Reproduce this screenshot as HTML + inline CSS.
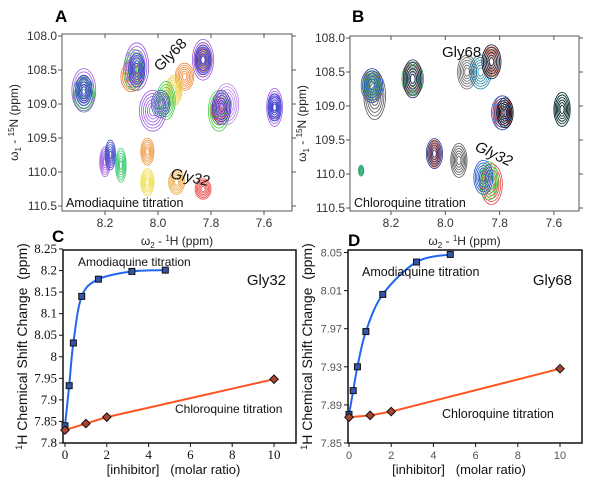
<!DOCTYPE html>
<html><head><meta charset="utf-8"><style>
html,body{margin:0;padding:0;background:#fff;}
svg{display:block;font-family:"Liberation Sans",sans-serif;}
</style></head><body>
<svg id="fig" width="600" height="484" viewBox="0 0 600 484" xmlns="http://www.w3.org/2000/svg">
  <text x="55" y="22" font-size="17" font-weight="bold">A</text>
  <text x="352" y="22" font-size="17" font-weight="bold">B</text>
  <text x="52" y="242" font-size="17" font-weight="bold">C</text>
  <text x="348" y="246" font-size="17" font-weight="bold">D</text>
  <g id="gA"></g>
  <g id="gB"></g>
  <g id="gC"></g>
  <g id="gD"></g>
</svg>
<script>
// ---- NMR spectra data: [H ppm, N ppm, color, rx ppm, ry ppm]
const peaksA = [
 [8.28,108.8,'#9b59e0',0.045,0.32],[8.28,108.85,'#33aa55',0.04,0.25],[8.28,108.8,'#3344cc',0.03,0.22],
 [8.1,108.6,'#ee7733',0.04,0.22],[8.09,108.5,'#44cc44',0.04,0.3],[8.08,108.45,'#9b59e0',0.045,0.35],[8.08,108.5,'#3344cc',0.03,0.25],
 [7.9,108.6,'#ee8833',0.035,0.2],[7.94,108.8,'#eecc33',0.03,0.22],[7.97,108.95,'#44cc44',0.035,0.28],[7.99,109.0,'#3366aa',0.035,0.2],[8.02,109.1,'#9b59e0',0.05,0.3],
 [7.83,108.35,'#ee8833',0.035,0.25],[7.83,108.35,'#9b59e0',0.04,0.3],[7.83,108.35,'#3344cc',0.03,0.22],
 [7.77,109.1,'#ee3333',0.03,0.2],[7.77,109.1,'#44cc44',0.04,0.3],[7.74,109.0,'#bb88ee',0.045,0.3],[7.76,109.05,'#5533cc',0.035,0.25],
 [7.56,109.05,'#9b59e0',0.03,0.28],[7.56,109.05,'#3344cc',0.025,0.2],
 [8.2,109.85,'#aa66dd',0.02,0.22],[8.18,109.75,'#4455cc',0.02,0.22],[8.14,109.9,'#44cc77',0.02,0.25],
 [8.04,109.7,'#ee9944',0.025,0.2],[8.04,110.15,'#eedd44',0.025,0.2],[7.93,110.15,'#eeaa44',0.03,0.18],[7.83,110.25,'#ee4444',0.03,0.15]
];
const peaksB = [
 [8.26,108.85,'#555555',0.04,0.35],[8.27,108.7,'#ee6633',0.035,0.25],[8.27,108.7,'#33aa55',0.035,0.22],[8.27,108.7,'#2255cc',0.04,0.25],
 [8.12,108.6,'#ee6633',0.035,0.25],[8.12,108.6,'#33aa55',0.04,0.25],[8.12,108.6,'#222266',0.035,0.28],
 [7.92,108.5,'#666666',0.035,0.25],[7.87,108.5,'#2288aa',0.04,0.25],[7.83,108.35,'#ee6633',0.035,0.22],[7.83,108.35,'#112244',0.035,0.25],
 [7.79,109.1,'#ee4444',0.035,0.25],[7.79,109.1,'#2266cc',0.04,0.25],[7.78,109.1,'#111111',0.03,0.22],
 [7.57,109.05,'#33aa55',0.03,0.25],[7.57,109.05,'#112233',0.03,0.25],
 [8.04,109.7,'#ee6633',0.025,0.2],[8.04,109.7,'#223388',0.03,0.22],[7.95,109.8,'#555555',0.03,0.25],
 [7.83,110.15,'#ee4444',0.04,0.3],[7.84,110.1,'#44cc44',0.035,0.28],[7.86,110.05,'#2255cc',0.035,0.25],
 [8.31,109.95,'#33aa77',0.01,0.08]
];
const hTicks=[8.2,8.0,7.8,7.6];
const nTicks=[108.0,108.5,109.0,109.5,110.0,110.5];

function mk(tag,attrs,parent){const e=document.createElementNS('http://www.w3.org/2000/svg',tag);for(const k in attrs)e.setAttribute(k,attrs[k]);parent.appendChild(e);return e;}

function spectrum(g,box,hx,peaks,title,lab1,lab2){
  const H=h=>hx[0]+(h-hx[1])*hx[2];
  const N=n=>box.t+2+(n-108)*68;
  const clip='c'+title.charAt(0);
  const cp=mk('clipPath',{id:clip},g);mk('rect',{x:box.l,y:box.t,width:box.r-box.l,height:box.b-box.t},cp);
  const pg=mk('g',{'clip-path':'url(#'+clip+')'},g);
  peaks.forEach(p=>{
    for(let i=0;i<6;i++){
      const f=1-i*0.15;
      const e=mk('ellipse',{cx:H(p[0]),cy:N(p[1]),rx:Math.abs(p[3]*hx[2])*f,ry:p[4]*68*f,fill:'none',stroke:p[2],'stroke-width':0.8},pg);
      
      
    }
  });
  const fr=mk('rect',{x:box.l,y:box.t,width:box.r-box.l,height:box.b-box.t,fill:'none',stroke:'#555','stroke-width':1},g);
  
  hTicks.forEach(h=>{const x=H(h);mk('line',{x1:x,x2:x,y1:box.b,y2:box.b+4,stroke:'#555'},g);mk('line',{x1:x,x2:x,y1:box.t,y2:box.t+4,stroke:'#555'},g);
    const t=mk('text',{x:x,y:box.b+16,'font-size':12,fill:'#333','text-anchor':'middle'},g);t.textContent=h.toFixed(1);
    });
  nTicks.forEach(n=>{const y=N(n);mk('line',{x1:box.l-4,x2:box.l,y1:y,y2:y,stroke:'#555'},g);mk('line',{x1:box.r,x2:box.r+4,y1:y,y2:y,stroke:'#555'},g);
    const t=mk('text',{x:box.l-5,y:y+4,'font-size':12,fill:'#333','text-anchor':'end'},g);t.textContent=n.toFixed(1);
    });
  const tl=mk('text',{x:box.l+4,y:box.b-4,'font-size':12.5,fill:'#111'},g);tl.textContent=title;
  
  const a=mk('text',{x:lab1[0],y:lab1[1],'font-size':15,fill:'#111',transform:'rotate('+lab1[2]+' '+lab1[0]+' '+lab1[1]+')'},g);a.textContent='Gly68';
  
  const b=mk('text',{x:lab2[0],y:lab2[1],'font-size':15,fill:'#111','font-style':'italic',transform:'rotate('+lab2[2]+' '+lab2[0]+' '+lab2[1]+')'},g);b.textContent='Gly32';
  
  const xt=mk('text',{x:(box.l+box.r)/2,y:245,'font-size':12,fill:'#222','text-anchor':'middle'},g);
  xt.innerHTML='ω<tspan font-size="8" dy="3">2</tspan><tspan dy="-3"> - </tspan><tspan font-size="8" dy="-4">1</tspan><tspan dy="4">H (ppm)</tspan>';
  
  const yx=box.l-44,yy=(box.t+box.b)/2;
  const yt=mk('text',{x:yx,y:yy,'font-size':12,fill:'#222','text-anchor':'middle',transform:'rotate(-90 '+yx+' '+yy+')'},g);
  yt.innerHTML='ω<tspan font-size="8" dy="3">1</tspan><tspan dy="-3"> - </tspan><tspan font-size="8" dy="-4">15</tspan><tspan dy="4">N (ppm)</tspan>';
  
}
spectrum(document.getElementById('gA'),{l:62,r:292,t:34,b:211},[105,8.2,-265],peaksA,'Amodiaquine titration',[160,72,-45],[170,178,12]);
spectrum(document.getElementById('gB'),{l:350,r:579,t:36,b:211},[391,8.2,-271.5],peaksB,'Chloroquine titration',[442,57,0],[474,150,25]);

// ---- Titration curves
const ratioAmo=[0,0.2,0.4,0.8,1.6,3.2,4.8];
const ratioChl=[0,1,2,10];
const gly32Amo=[7.84,7.933,8.032,8.14,8.18,8.198,8.201];
const gly32Chl=[7.83,7.845,7.86,7.948];
const gly68Amo=[7.88,7.905,7.93,7.967,8.006,8.04,8.048];
const gly68Chl=[7.877,7.879,7.883,7.928];
const xTicks=[0,2,4,6,8,10];
const yTicksC=['8.25','8.2','8.15','8.1','8.05','8','7.95','7.9','7.85','7.8'];
const yTicksD=['8.05','8.01','7.97','7.93','7.89','7.85'];

function smoothPath(pts){
  let d='M'+pts[0][0]+','+pts[0][1];
  for(let i=0;i<pts.length-1;i++){
    const p0=pts[i-1]||pts[i],p1=pts[i],p2=pts[i+1],p3=pts[i+2]||p2;
    const c1=[p1[0]+(p2[0]-p0[0])/6,p1[1]+(p2[1]-p0[1])/6],c2=[p2[0]-(p3[0]-p1[0])/6,p2[1]-(p3[1]-p1[1])/6];
    d+=' C'+c1+' '+c2+' '+p2;
  }
  return d;
}
function chart(g,box,x0,x10,yMin,yMax,yTicks,amo,chl,name,serif,amoLab,chlLab){
  const X=v=>x0+(x10-x0)*v/10;
  const Y=v=>box.b-(v-yMin)/(yMax-yMin)*(box.b-box.yTop);
  const fr=mk('rect',{x:box.l,y:box.t,width:box.r-box.l,height:box.b-box.t,fill:'none',stroke:'#111','stroke-width':1.5},g);
  
  const ff=serif?'"Liberation Serif",serif':'"Liberation Sans",sans-serif';
  const tc=serif?'#111':'#555';
  xTicks.forEach(v=>{const x=X(v);mk('line',{x1:x,x2:x,y1:box.b,y2:box.b+4,stroke:'#111'},g);
    const t=mk('text',{x:x,y:box.b+16,'font-size':serif?13:11,'font-family':ff,fill:tc,'text-anchor':'middle'},g);t.textContent=v;
    });
  yTicks.forEach(s=>{const y=Y(parseFloat(s));mk('line',{x1:box.l-4,x2:box.l,y1:y,y2:y,stroke:'#111'},g);
    const t=mk('text',{x:box.l-6,y:y+4,'font-size':serif?13:11,'font-family':ff,fill:tc,'text-anchor':'end'},g);t.textContent=s;
    });
  const pa=ratioAmo.map((v,i)=>[X(v),Y(amo[i])]);
  const pc=ratioChl.map((v,i)=>[X(v),Y(chl[i])]);
  const l1=mk('path',{d:smoothPath(pa),fill:'none',stroke:'#2266ee','stroke-width':2},g);
  
  const l2=mk('path',{d:'M'+pc.map(p=>p.join(',')).join(' L'),fill:'none',stroke:'#ff5522','stroke-width':2},g);
  
  pa.forEach(p=>{const r=mk('rect',{x:p[0]-3,y:p[1]-3,width:6,height:6,fill:'#3355aa',stroke:'#111','stroke-width':1},g);
    });
  pc.forEach(p=>{const r=mk('rect',{x:p[0]-3,y:p[1]-3,width:6,height:6,fill:'#aa4433',stroke:'#111','stroke-width':1,transform:'rotate(45 '+p[0]+' '+p[1]+')'},g);
    });
  const a=mk('text',{x:amoLab[0],y:amoLab[1],'font-size':amoLab[2],fill:'#111'},g);a.textContent='Amodiaquine titration';
  
  const c=mk('text',{x:chlLab[0],y:chlLab[1],'font-size':chlLab[2],fill:'#111'},g);c.textContent='Chloroquine titration';
  
  const n=mk('text',{x:box.r-10,y:box.t+35,'font-size':15,fill:'#111','text-anchor':'end'},g);n.textContent=name;
  
  const xt=mk('text',{x:(box.l+box.r)/2-6,y:474,'font-size':13,fill:'#111','text-anchor':'middle',style:'white-space:pre'},g);xt.textContent='[inhibitor]   (molar ratio)';
  
  const yx=box.l-36,yy=(box.t+box.b)/2;
  const yt=mk('text',{x:yx,y:yy,'font-size':14,fill:'#111','text-anchor':'middle',transform:'rotate(-90 '+yx+' '+yy+')',style:'white-space:pre'},g);
  yt.innerHTML='<tspan font-size="9" dy="-5">1</tspan><tspan dy="5">H Chemical Shift Change  (ppm)</tspan>';
  
}
chart(document.getElementById('gC'),{l:63,r:296,t:250,b:443,yTop:249},65,274,7.8,8.25,yTicksC,gly32Amo,gly32Chl,'Gly32',true,[78,266,12],[175,413,12]);
chart(document.getElementById('gD'),{l:348,r:582,t:250,b:443,yTop:283-(443-283)*0.25},349,560,7.85,8.05+0.01,yTicksD,gly68Amo,gly68Chl,'Gly68',false,[362,276,12.5],[442,418,12.5]);
</script>
</body></html>
